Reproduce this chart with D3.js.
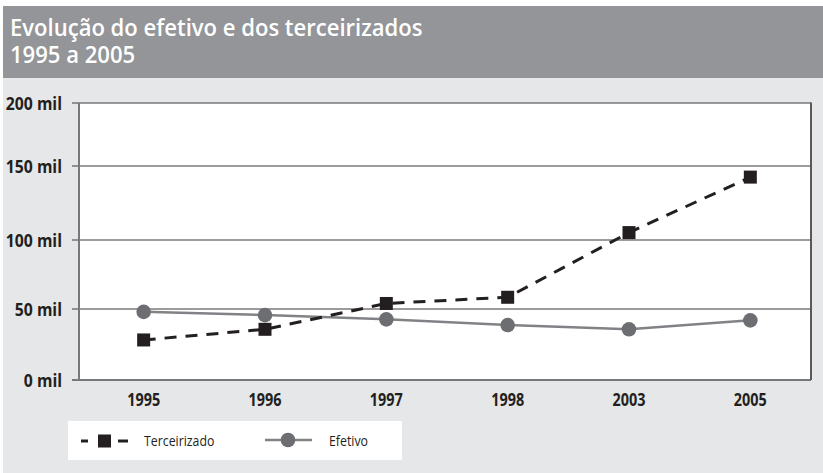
<!DOCTYPE html>
<meta charset="utf-8">
<style>
    body {
        margin: 0;
        background: #ffffff;
    }

    svg text {
        font-family: "Open Sans", "Liberation Sans", sans-serif;
    }
</style>

<body>
    <svg width="823" height="473"></svg>
    <script src="https://d3js.org/d3.v7.min.js"></script>
    <script>
        // data
        var anos = ["1995", "1996", "1997", "1998", "2003", "2005"];
        var terceirizado = [28.2, 35.7, 54, 58.5, 105, 142.5];
        var efetivo = [48, 45.7, 42.7, 38.7, 35.7, 42];
        var yTicks = [0, 50, 100, 150, 200];
        var yTickLabels = ["0 mil", "50 mil", "100 mil", "150 mil", "200 mil"];
        var titulo = ["Evolução do efetivo e dos terceirizados", "1995 a 2005"];

        var svg = d3.select("svg");
        var width = +svg.attr("width");
        var height = +svg.attr("height");

        var pLeft = 79, pRight = 811, pTop = 103, pBottom = 380;

        // the source font is a condensed one, squeeze the text a bit
        function condense(sel, k) {
            sel.each(function() {
                var w = this.getComputedTextLength();
                d3.select(this).attr("textLength", w * k).attr("lengthAdjust", "spacingAndGlyphs");
            });
        }

        // background panels
        svg.append("rect").attr("x", 3).attr("y", 78).attr("width", width - 3).attr("height", height - 78)
            .attr("fill", "#e6e7e8");
        svg.append("rect").attr("x", 3).attr("y", 6).attr("width", width - 3).attr("height", 72)
            .attr("fill", "#939598");

        svg.selectAll(".titulo")
            .data(titulo)
            .enter().append("text")
            .attr("class", "titulo")
            .attr("x", 10)
            .attr("y", function(d, i) { return 36 + i * 27; })
            .attr("fill", "#ffffff")
            .style("font-size", "22.5px")
            .style("font-weight", 600)
            .text(function(d) { return d; })
            .call(condense, 0.98);

        var x = d3.scalePoint().domain(anos).range([83, pRight]).padding(0.5);
        // the original grid spacing is uneven, so map each tick to its own row
        var y = d3.scaleLinear().domain(yTicks).range([380, 309, 240, 166, 103]);

        svg.append("rect")
            .attr("x", pLeft).attr("y", pTop)
            .attr("width", pRight - pLeft).attr("height", pBottom - pTop)
            .attr("fill", "#ffffff");

        // grid + ticks
        svg.append("g")
            .selectAll("line")
            .data(yTicks.slice(1))
            .enter().append("line")
            .attr("x1", pLeft - 7).attr("x2", pRight)
            .attr("y1", function(d) { return y(d); })
            .attr("y2", function(d) { return y(d); })
            .attr("stroke", "#3a3a3a")
            .attr("stroke-width", 1.2);

        svg.append("line").attr("x1", pLeft - 7).attr("x2", pRight)
            .attr("y1", y(0)).attr("y2", y(0))
            .attr("stroke", "#77787b").attr("stroke-width", 2);
        svg.append("line").attr("x1", pLeft).attr("x2", pLeft)
            .attr("y1", pTop).attr("y2", pBottom)
            .attr("stroke", "#77787b").attr("stroke-width", 2);
        svg.append("line").attr("x1", pRight).attr("x2", pRight)
            .attr("y1", pTop - 0.5).attr("y2", pBottom)
            .attr("stroke", "#58595b").attr("stroke-width", 2);

        svg.append("g")
            .selectAll("text")
            .data(yTicks)
            .enter().append("text")
            .attr("x", 62)
            .attr("y", function(d) { return y(d) + 6.5; })
            .attr("text-anchor", "end")
            .attr("fill", "#231f20")
            .style("font-size", "17.5px")
            .style("font-weight", "bold")
            .text(function(d, i) { return yTickLabels[i]; })
            .call(condense, 0.9);

        svg.append("g")
            .selectAll("text")
            .data(anos)
            .enter().append("text")
            .attr("x", function(d) { return x(d); })
            .attr("y", 405.5)
            .attr("text-anchor", "middle")
            .attr("fill", "#231f20")
            .style("font-size", "18px")
            .style("font-weight", "bold")
            .text(function(d) { return d; })
            .call(condense, 0.8);

        // lines
        var linha = d3.line()
            .x(function(d, i) { return x(anos[i]); })
            .y(function(d) { return y(d); });

        svg.append("path")
            .datum(efetivo)
            .attr("d", linha)
            .attr("fill", "none")
            .attr("stroke", "#808285")
            .attr("stroke-width", 2.5);

        svg.append("path")
            .datum(terceirizado)
            .attr("d", linha)
            .attr("fill", "none")
            .attr("stroke", "#231f20")
            .attr("stroke-width", 3)
            .attr("stroke-dasharray", "12,9");

        svg.append("g")
            .selectAll("circle")
            .data(efetivo)
            .enter().append("circle")
            .attr("cx", function(d, i) { return x(anos[i]); })
            .attr("cy", function(d) { return y(d); })
            .attr("r", 7.3)
            .attr("fill", "#6d6e71");

        svg.append("g")
            .selectAll("rect")
            .data(terceirizado)
            .enter().append("rect")
            .attr("x", function(d, i) { return x(anos[i]) - 6.5; })
            .attr("y", function(d) { return y(d) - 6.5; })
            .attr("width", 13)
            .attr("height", 13)
            .attr("fill", "#231f20");

        // legend
        var leg = svg.append("g");
        leg.append("rect").attr("x", 68).attr("y", 421).attr("width", 334).attr("height", 39)
            .attr("fill", "#ffffff");
        leg.append("line").attr("x1", 81).attr("x2", 128).attr("y1", 441).attr("y2", 441)
            .attr("stroke", "#231f20").attr("stroke-width", 3).attr("stroke-dasharray", "7,30,10");
        leg.append("rect").attr("x", 98).attr("y", 434.5).attr("width", 13).attr("height", 13)
            .attr("fill", "#231f20");
        leg.append("text").attr("x", 144).attr("y", 445.5).attr("fill", "#231f20")
            .style("font-size", "14.5px").text("Terceirizado").call(condense, 0.85);
        leg.append("line").attr("x1", 265).attr("x2", 312).attr("y1", 440).attr("y2", 440)
            .attr("stroke", "#808285").attr("stroke-width", 2.5);
        leg.append("circle").attr("cx", 288).attr("cy", 440).attr("r", 7.3)
            .attr("fill", "#6d6e71");
        leg.append("text").attr("x", 329).attr("y", 445.5).attr("fill", "#231f20")
            .style("font-size", "14.5px").text("Efetivo").call(condense, 0.85);
    </script>
</body>
